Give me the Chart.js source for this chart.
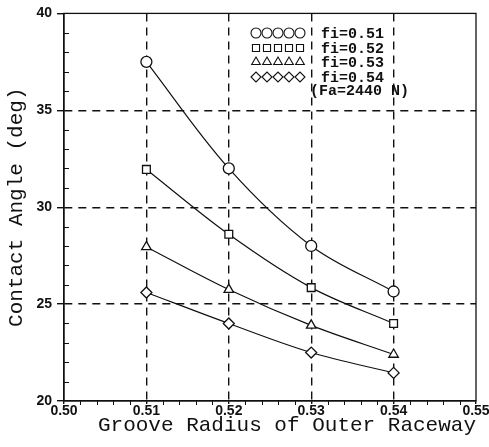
<!DOCTYPE html>
<html>
<head>
<meta charset="utf-8">
<script src="https://cdn.jsdelivr.net/npm/chart.js@4"></script>
<style>
  body { margin: 0; background: #fff; }
  #wrap { width: 489px; height: 447px; }
</style>
</head>
<body>
<div id="wrap"><canvas id="contactChart" width="489" height="447"></canvas></div>
<script>
// Spårradie för yttre ringen (x-axeln)
const grooveRadius = [0.51, 0.52, 0.53, 0.54];

// Kontaktvinkel (deg) för varje fi-värde
const angleFi051 = [37.5, 32.0, 28.0, 25.65];
const angleFi052 = [31.95, 28.6, 25.85, 24.0];
const angleFi053 = [27.95, 25.75, 23.9, 22.4];
const angleFi054 = [25.6, 24.0, 22.5, 21.45];

const seriesLabels = ['fi=0.51', 'fi=0.52', 'fi=0.53', 'fi=0.54'];
const pointStyles = ['circle', 'rect', 'triangle', 'rectRot'];
const loadNote = '(Fa=2440 N)';

const xTicks = [0.50, 0.51, 0.52, 0.53, 0.54, 0.55];
const yTicks = [20, 25, 30, 35, 40];

const ink = '#111';

function makeDataset(label, values, style) {
    return {
        label: label,
        data: grooveRadius.map((x, i) => ({ x: x, y: values[i] })),
        borderColor: ink,
        borderWidth: 1.2,
        backgroundColor: '#fff',
        pointStyle: style,
        pointRadius: 5.5,
        pointBorderWidth: 1.3,
        pointBorderColor: ink,
        pointBackgroundColor: '#fff',
        tension: 0.35,
        fill: false
    };
}

// Ram, små skalstreck och förklaringsruta
const decorPlugin = {
    id: 'decor',
    afterDatasetsDraw(chart) {
        const { ctx, chartArea: a, scales } = chart;
        const xs = scales.x, ys = scales.y;
        ctx.save();
        ctx.strokeStyle = ink;
        ctx.lineWidth = 1.3;
        ctx.setLineDash([]);
        ctx.strokeRect(a.left, a.top, a.right - a.left, a.bottom - a.top);

        // små skalstreck på y-axeln (inåt)
        ctx.lineWidth = 1;
        for (let v = yTicks[0] + 1; v < yTicks[yTicks.length - 1]; v++) {
            if (v % 5 === 0) continue;
            const py = Math.round(ys.getPixelForValue(v)) + 0.5;
            ctx.beginPath();
            ctx.moveTo(a.left, py);
            ctx.lineTo(a.left + 5, py);
            ctx.stroke();
        }
        // små skalstreck på x-axeln (utåt)
        for (let k = 1; k < 25; k++) {
            if (k % 5 === 0) continue;
            const px = Math.round(xs.getPixelForValue(0.5 + k * 0.002)) + 0.5;
            ctx.beginPath();
            ctx.moveTo(px, a.bottom);
            ctx.lineTo(px, a.bottom + 4);
            ctx.stroke();
        }

        // förklaring: fem symboler per rad
        const datasets = chart.data.datasets;
        ctx.font = 'bold 15px "Liberation Mono", monospace';
        ctx.textBaseline = 'middle';
        ctx.textAlign = 'left';
        const rowY = [33, 48, 62, 77];
        datasets.forEach((ds, i) => {
            ctx.strokeStyle = ink;
            ctx.fillStyle = '#fff';
            ctx.lineWidth = 1.1;
            for (let j = 0; j < 5; j++) {
                Chart.helpers.drawPoint(ctx, {
                    pointStyle: ds.pointStyle,
                    radius: 5,
                    borderWidth: 1.1
                }, 256 + j * 11, rowY[i]);
            }
            ctx.fillStyle = ink;
            ctx.fillText(seriesLabels[i], 321, rowY[i] + 1);
        });
        ctx.fillText(loadNote, 310, 91);
        ctx.restore();
    }
};

const edgeColor = (min, max) => (c) =>
    (c.tick && (Math.abs(c.tick.value - min) < 1e-9 || Math.abs(c.tick.value - max) < 1e-9)) ? 'rgba(0,0,0,0)' : ink;

const ctx = document.getElementById('contactChart').getContext('2d');
const chart = new Chart(ctx, {
    type: 'line',
    data: {
        datasets: [
            makeDataset(seriesLabels[0], angleFi051, pointStyles[0]),
            makeDataset(seriesLabels[1], angleFi052, pointStyles[1]),
            makeDataset(seriesLabels[2], angleFi053, pointStyles[2]),
            makeDataset(seriesLabels[3], angleFi054, pointStyles[3])
        ]
    },
    options: {
        responsive: false,
        animation: false,
        layout: { padding: { left: 0, right: 13, top: 13, bottom: 0 } },
        plugins: {
            legend: { display: false },
            tooltip: { enabled: false }
        },
        scales: {
            x: {
                type: 'linear',
                min: xTicks[0],
                max: xTicks[xTicks.length - 1],
                afterBuildTicks: (s) => { s.ticks = xTicks.map(v => ({ value: v })); },
                afterFit: (s) => { s.height = 46; },
                border: { display: true, color: ink, width: 1.3, dash: [8, 6] },
                grid: {
                    color: edgeColor(0.50, 0.55),
                    lineWidth: 1.4,
                    drawTicks: true,
                    tickLength: 3,
                    tickColor: ink,
                    tickBorderDash: []
                },
                ticks: {
                    padding: -1,
                    color: ink,
                    maxRotation: 0,
                    font: { family: '"Liberation Sans", Arial, sans-serif', size: 14, weight: 'bold' },
                    callback: (v) => Number(v).toFixed(2)
                },
                title: {
                    display: true,
                    text: 'Groove Radius of Outer Raceway',
                    align: 'end',
                    color: ink,
                    font: { family: '"Liberation Mono", monospace', size: 21 },
                    padding: { top: 0, bottom: 9 }
                }
            },
            y: {
                type: 'linear',
                min: yTicks[0],
                max: yTicks[yTicks.length - 1],
                afterBuildTicks: (s) => { s.ticks = yTicks.map(v => ({ value: v })); },
                afterFit: (s) => { s.width = 64; },
                border: { display: true, color: ink, width: 1.3, dash: [8, 6] },
                grid: {
                    color: edgeColor(20, 40),
                    lineWidth: 1.4,
                    drawTicks: true,
                    tickLength: 7,
                    tickColor: ink,
                    tickBorderDash: []
                },
                ticks: {
                    padding: 5,
                    color: ink,
                    font: { family: '"Liberation Sans", Arial, sans-serif', size: 14, weight: 'bold' }
                },
                title: {
                    display: true,
                    text: 'Contact Angle (deg)',
                    color: ink,
                    font: { family: '"Liberation Mono", monospace', size: 21 },
                    padding: { top: 4, bottom: 0 }
                }
            }
        }
    },
    plugins: [decorPlugin]
});
</script>
</body>
</html>
